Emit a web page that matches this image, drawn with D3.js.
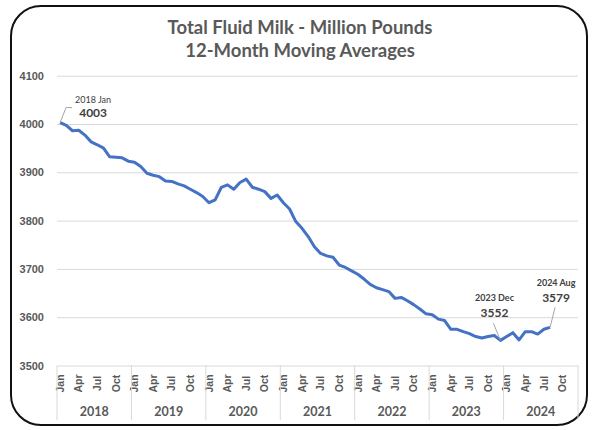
<!DOCTYPE html>
<html>
<head>
<meta charset="utf-8">
<script src="https://cdn.jsdelivr.net/npm/d3@7"></script>
<style>
  body { margin: 0; background: #fff; }
  svg { font-family: Lato, "Open Sans", sans-serif; }
</style>
</head>
<body>
<div id="chart"></div>
<script>
// 12-month moving averages, Jan 2018 .. Aug 2024 (million pounds)
const years = [2018, 2019, 2020, 2021, 2022, 2023, 2024];
const monthNames = ["Jan", "Feb", "Mar", "Apr", "May", "Jun", "Jul", "Aug", "Sep", "Oct", "Nov", "Dec"];
const shownMonths = ["Jan", "Apr", "Jul", "Oct"];
const yTicks = [3500, 3600, 3700, 3800, 3900, 4000, 4100];

const values = [
    4003, 3997, 3986, 3987, 3977, 3963, 3957, 3950, 3932, 3931, 3930, 3923,
    3921, 3912, 3898, 3894, 3891, 3882, 3881, 3876, 3872, 3865, 3858, 3850,
    3837, 3843, 3869, 3874, 3865, 3879, 3886, 3869, 3865, 3860, 3846, 3853,
    3837, 3824, 3798, 3784, 3767, 3746, 3732, 3727, 3724, 3708, 3703, 3696,
    3689, 3679, 3668, 3661, 3657, 3653, 3639, 3641, 3634, 3626, 3617, 3607,
    3605, 3596, 3593, 3575, 3575, 3570, 3566, 3560, 3557, 3560, 3562, 3552,
    3560, 3568, 3553, 3570, 3570, 3565, 3575, 3579
];

const callouts = [
    { index: 0, label: "2018 Jan", value: 4003 },
    { index: 71, label: "2023 Dec", value: 3552 },
    { index: 79, label: "2024 Aug", value: 3579 }
];

const width = 600, height = 430;
const plotLeft = 57, plotRight = 578, plotTop = 75.7, plotBottom = 365.5;

const categories = [];
years.forEach(yr => monthNames.forEach(m => categories.push(yr + " " + m)));

const svg = d3.select("#chart")
    .append("svg")
    .attr("width", width)
    .attr("height", height);

svg.append("rect")
    .attr("x", 11).attr("y", 6)
    .attr("width", 576).attr("height", 419)
    .attr("rx", 30)
    .attr("fill", "#fff")
    .attr("stroke", "#111")
    .attr("stroke-width", 2);

// title
const title = svg.append("text")
    .attr("text-anchor", "middle")
    .attr("fill", "#595959")
    .attr("font-weight", "bold")
    .attr("font-size", 18.5);
title.append("tspan").attr("x", 300).attr("y", 33.5).text("Total Fluid Milk - Million Pounds");
title.append("tspan").attr("x", 300).attr("y", 57).text("12-Month Moving Averages");

const x = d3.scaleBand()
    .domain(categories)
    .range([plotLeft, plotRight]);

const y = d3.scaleLinear()
    .domain([3500, 4100])
    .range([plotBottom, plotTop]);

// y axis + gridlines
const yAxis = svg.append("g")
    .attr("transform", `translate(${plotLeft},0)`)
    .call(d3.axisLeft(y)
        .tickValues(yTicks)
        .tickFormat(d3.format("d"))
        .tickSize(-(plotRight - plotLeft))
        .tickPadding(13));
yAxis.select(".domain").remove();
yAxis.selectAll(".tick line").attr("stroke", "#d9d9d9");
yAxis.selectAll(".tick text")
    .attr("fill", "#595959")
    .attr("font-weight", "bold")
    .attr("font-size", 11);

// month labels
const xAxis = svg.append("g")
    .attr("transform", `translate(0,${plotBottom})`)
    .call(d3.axisBottom(x)
        .tickValues(categories.filter(c => shownMonths.includes(c.split(" ")[1])))
        .tickFormat(c => c.split(" ")[1])
        .tickSize(0));
xAxis.select(".domain").remove();
xAxis.selectAll(".tick text")
    .attr("x", 0).attr("y", 0).attr("dy", "0.35em")
    .attr("transform", "translate(0,18) rotate(-90)")
    .attr("text-anchor", "middle")
    .attr("fill", "#595959")
    .attr("font-weight", "bold")
    .attr("font-size", 10.5);

// year groups
const yearScale = d3.scaleBand()
    .domain(years)
    .range([plotLeft, plotRight]);

svg.append("g").selectAll("line")
    .data(years.concat(["end"]))
    .enter().append("line")
    .attr("x1", d => d === "end" ? plotRight : yearScale(d))
    .attr("x2", d => d === "end" ? plotRight : yearScale(d))
    .attr("y1", plotBottom)
    .attr("y2", 420)
    .attr("stroke", "#d9d9d9");

svg.append("g").selectAll("text")
    .data(years)
    .enter().append("text")
    .attr("x", d => yearScale(d) + yearScale.bandwidth() / 2)
    .attr("y", 416)
    .attr("text-anchor", "middle")
    .attr("fill", "#595959")
    .attr("font-weight", "bold")
    .attr("font-size", 12.5)
    .text(d => d);

// series
const cx = i => x(categories[i]) + x.bandwidth() / 2;

const line = d3.line()
    .x((d, i) => cx(i))
    .y(d => y(d));

svg.append("path")
    .datum(values)
    .attr("fill", "none")
    .attr("stroke", "#4472c4")
    .attr("stroke-width", 3)
    .attr("stroke-linejoin", "round")
    .attr("d", line);

// callouts: leader line, small label, bold value
const calloutPos = {
    0: { dx: 6, dy: -15, tx: 33, ly: -20, vy: -5.5 },
    71: { dx: -7, dy: -17, tx: -6, ly: -39, vy: -23 },
    79: { dx: 5, dy: -20, tx: 6, ly: -41, vy: -25 }
};

callouts.forEach(c => {
    const px = cx(c.index), py = y(values[c.index]);
    const p = calloutPos[c.index];
    const pts = c.index === 0
        ? [[px, py], [px + p.dx, py + p.dy], [px + p.dx + 6, py + p.dy]]
        : [[px, py], [px + p.dx, py + p.dy]];
    svg.append("path")
        .attr("d", d3.line()(pts))
        .attr("fill", "none")
        .attr("stroke", "#a6a6a6")
        .attr("stroke-width", 1);
    svg.append("text")
        .attr("x", px + p.tx)
        .attr("y", py + p.ly)
        .attr("text-anchor", "middle")
        .attr("fill", "#404040")
        .attr("font-size", 9)
        .attr("font-weight", c.index === 0 ? "normal" : "bold")
        .text(c.label);
    svg.append("text")
        .attr("x", px + p.tx)
        .attr("y", py + p.vy)
        .attr("text-anchor", "middle")
        .attr("fill", "#404040")
        .attr("font-size", 12)
        .attr("font-weight", "bold")
        .text(c.value);
});
</script>
</body>
</html>
